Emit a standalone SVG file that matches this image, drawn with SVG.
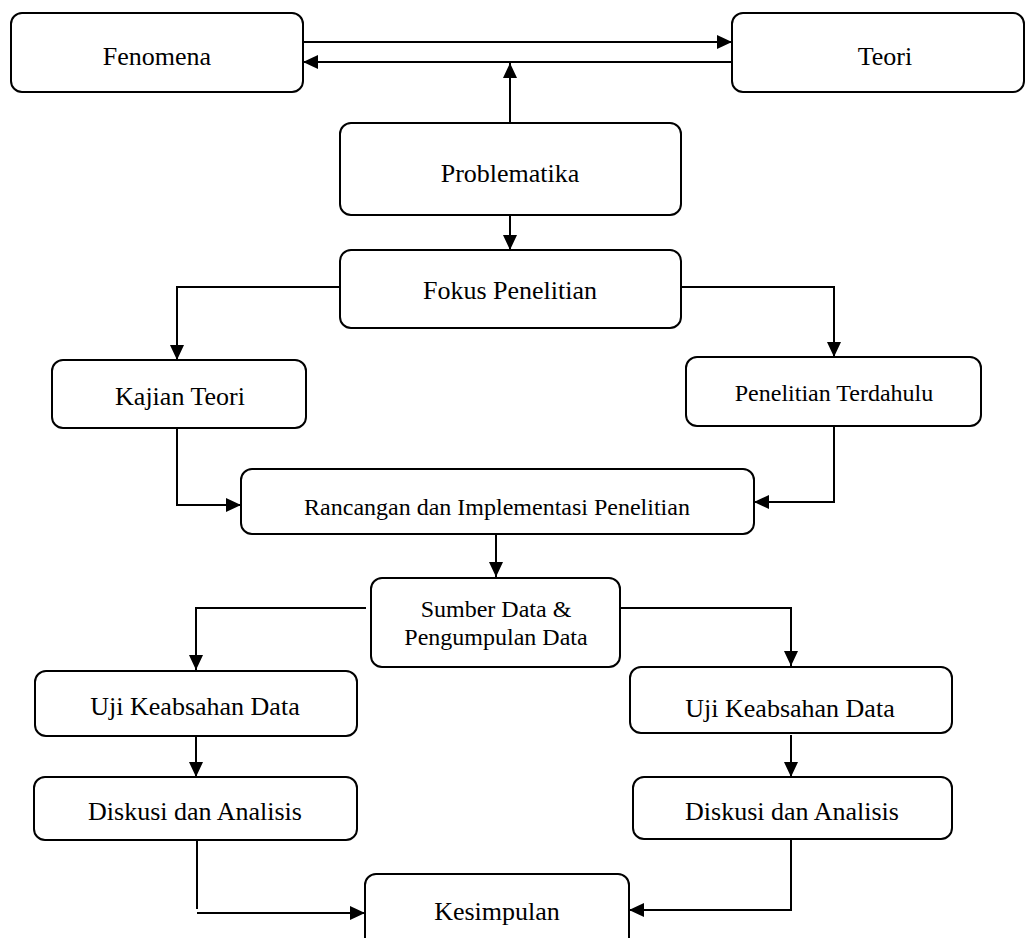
<svg xmlns="http://www.w3.org/2000/svg" width="1026" height="938" viewBox="0 0 1026 938">
<style>
.box{fill:#fff;stroke:#000;stroke-width:2}
.t{font-family:"Liberation Serif","Times New Roman",serif;font-size:26px;fill:#000;text-anchor:middle}
.s{font-size:24px}
.c{fill:none;stroke:#000;stroke-width:2;marker-end:url(#ah)}
</style>
<defs>
<marker id="ah" markerUnits="userSpaceOnUse" markerWidth="16" markerHeight="14" refX="15" refY="7" orient="auto">
<path d="M0,0 L15,7 L0,14 z" fill="#000"/>
</marker>
</defs>
<rect width="1026" height="938" fill="#fff"/>
<g id="connectors">
<path class="c" d="M303,42 H732"/>
<path class="c" d="M732,62 H303"/>
<path class="c" d="M510,123 V63"/>
<path class="c" d="M510,215 V250"/>
<path class="c" d="M340,287 H177 V360"/>
<path class="c" d="M681,287 H834 V357"/>
<path class="c" d="M177,428 V505 H241"/>
<path class="c" d="M834,426 V502 H754"/>
<path class="c" d="M496,534 V577"/>
<path class="c" d="M366,608 H196 V670"/>
<path class="c" d="M620,608 H791 V666"/>
<path class="c" d="M196,736 V777"/>
<path class="c" d="M791,735 V777"/>
<path class="c" d="M197,840 V909 M197,913 H365"/>
<path class="c" d="M791,839 V910 H629"/>
</g>
<g id="fenomena"><rect class="box" x="11" y="13" width="292" height="79" rx="11"/><text class="t" x="157" y="65">Fenomena</text></g>
<g id="teori"><rect class="box" x="732" y="13" width="292" height="79" rx="11"/><text class="t" x="885" y="65">Teori</text></g>
<g id="problematika"><rect class="box" x="340" y="123" width="341" height="92" rx="11"/><text class="t" x="510" y="182">Problematika</text></g>
<g id="fokus"><rect class="box" x="340" y="250" width="341" height="78" rx="11"/><text class="t" x="510" y="299">Fokus Penelitian</text></g>
<g id="kajian"><rect class="box" x="52" y="360" width="254" height="68" rx="11"/><text class="t" x="180" y="405">Kajian Teori</text></g>
<g id="terdahulu"><rect class="box" x="686" y="357" width="295" height="69" rx="11"/><text class="t s" x="834" y="401">Penelitian Terdahulu</text></g>
<g id="rancangan"><rect class="box" x="241" y="469" width="513" height="65" rx="11"/><text class="t s" x="497" y="515">Rancangan dan Implementasi Penelitian</text></g>
<g id="sumber"><rect class="box" x="371" y="578" width="249" height="89" rx="11"/><text class="t s" x="496" y="617">Sumber Data &amp;</text><text class="t s" x="496" y="645">Pengumpulan Data</text></g>
<g id="uji-kiri"><rect class="box" x="35" y="671" width="322" height="65" rx="11"/><text class="t" x="195" y="715">Uji Keabsahan Data</text></g>
<g id="uji-kanan"><rect class="box" x="630" y="667" width="322" height="66" rx="11"/><text class="t" x="790" y="717">Uji Keabsahan Data</text></g>
<g id="diskusi-kiri"><rect class="box" x="34" y="777" width="323" height="63" rx="11"/><text class="t" x="195" y="820">Diskusi dan Analisis</text></g>
<g id="diskusi-kanan"><rect class="box" x="633" y="777" width="319" height="62" rx="11"/><text class="t" x="792" y="820">Diskusi dan Analisis</text></g>
<g id="kesimpulan"><rect class="box" x="365" y="874" width="264" height="80" rx="11"/><text class="t" x="497" y="920">Kesimpulan</text></g>
</svg>
